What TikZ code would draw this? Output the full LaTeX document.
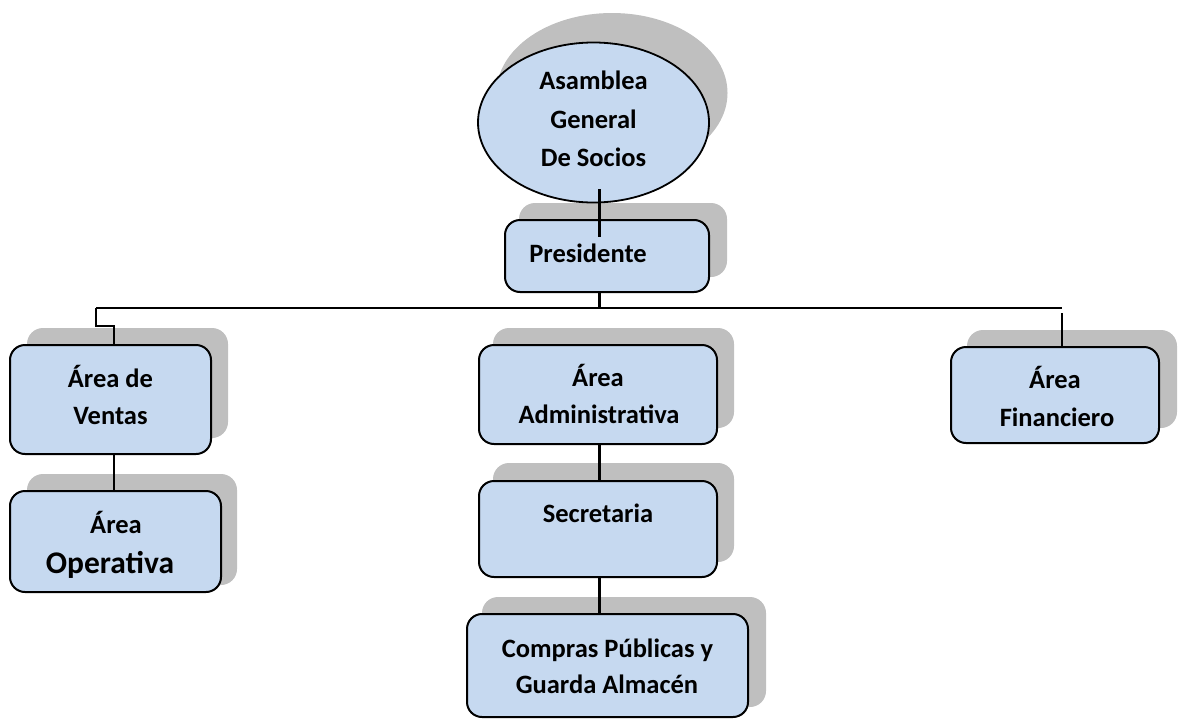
\documentclass[tikz,border=0pt]{standalone}
\usepackage{fontspec}
\setmainfont{Carlito}
\usetikzlibrary{shapes.geometric,calc}
\definecolor{boxfill}{RGB}{198,217,240}
\definecolor{dropgray}{RGB}{191,191,191}
\begin{document}
\begin{tikzpicture}[x=1pt,y=-1pt,
  orgbox/.style={draw=black, line width=2pt, fill=boxfill, rounded corners=15pt, inner sep=0pt},
  dropfill/.style={fill=dropgray, rounded corners=16pt},
  lbl/.style={font=\bfseries\fontsize{26.5}{30}\selectfont, inner sep=0pt, anchor=base},
  biglbl/.style={font=\bfseries\fontsize{31.5}{34}\selectfont, inner sep=0pt, anchor=base},
  link/.style={draw=black, line width=2.1pt}]
\useasboundingbox (0,0) rectangle (1182,720);

% drop shadows behind the shapes
\fill[dropgray] (612,93) ellipse [x radius=115.5, y radius=80];
\fill[dropfill] (519,203) rectangle (727,277);
\fill[dropfill] (27,328) rectangle (228,438);
\fill[dropfill] (27,474) rectangle (237,585);
\fill[dropfill] (493,328) rectangle (734,428);
\fill[dropfill] (493,463) rectangle (734,562);
\fill[dropfill] (482,597) rectangle (766,707);
\fill[dropfill] (967,330) rectangle (1177,428);

% shapes
\node[draw=black, ellipse, line width=1.8pt, fill=boxfill, inner sep=0pt,
      minimum width=231pt, minimum height=160pt] (asam) at (593.5,122.5) {};
\node[orgbox, minimum width=204pt, minimum height=72pt]  (pres)    at (607,256) {};
\node[orgbox, minimum width=201pt, minimum height=109pt] (ventas)  at (110.5,399.5) {};
\node[orgbox, minimum width=211pt, minimum height=101pt] (oper)    at (115.5,541.5) {};
\node[orgbox, minimum width=238pt, minimum height=99pt]  (admin)   at (598,394.5) {};
\node[orgbox, minimum width=238pt, minimum height=96pt]  (secr)    at (598,529) {};
\node[orgbox, minimum width=281pt, minimum height=103pt] (compras) at (607.5,665.5) {};
\node[orgbox, minimum width=208pt, minimum height=96pt]  (finan)   at (1055,395) {};

% labels
\node[lbl] (asamA) at (593.5,89)  {Asamblea};
\node[lbl] (asamB) at (593.5,128) {General};
\node[lbl] (asamC) at (593.5,166) {De Socios};
\node[lbl] (presT) at (588,262)   {Presidente};
\node[lbl] (ventA) at (110.5,387) {Área de};
\node[lbl] (ventB) at (110.5,424) {Ventas};
\node[lbl] (operA) at (116,533)   {Área};
\node[biglbl] (operB) at (110,573) {Operativa};
\node[lbl] (admA)  at (598,386)   {Área};
\node[lbl] (admB)  at (599,423)   {Administrativa};
\node[lbl] (secT)  at (598,522)   {Secretaria};
\node[lbl] (comA)  at (607.5,657) {Compras Públicas y};
\node[lbl] (comB)  at (607,693)   {Guarda Almacén};
\node[lbl] (finA)  at (1055,388)  {Área};
\node[lbl] (finB)  at (1057,426)  {Financiero};

% connector columns and the horizontal bus
\coordinate (colL) at (114,0);
\coordinate (colM) at (599.5,0);
\coordinate (colR) at (1062,0);
\coordinate (busL) at (96,308);
\coordinate (busR) at (1062,308);

\draw[link] ($(asam.south -| colM)+(0,-14)$) -- ($(pres.north -| colM)+(0,18)$);
\draw[link] (pres.south -| colM) -- (colM |- busL);
\draw[link] (busL) -- (busR);
\draw[link] (busL) -- ++(0,18) -| (ventas.north -| colL);
\draw[link] ($(busR)+(0,5)$) -- (finan.north -| colR);
\draw[link] (ventas.south -| colL) -- (oper.north -| colL);
\draw[link] (admin.south -| colM) -- (secr.north -| colM);
\draw[link] (secr.south -| colM) -- (compras.north -| colM);
\end{tikzpicture}
\end{document}
